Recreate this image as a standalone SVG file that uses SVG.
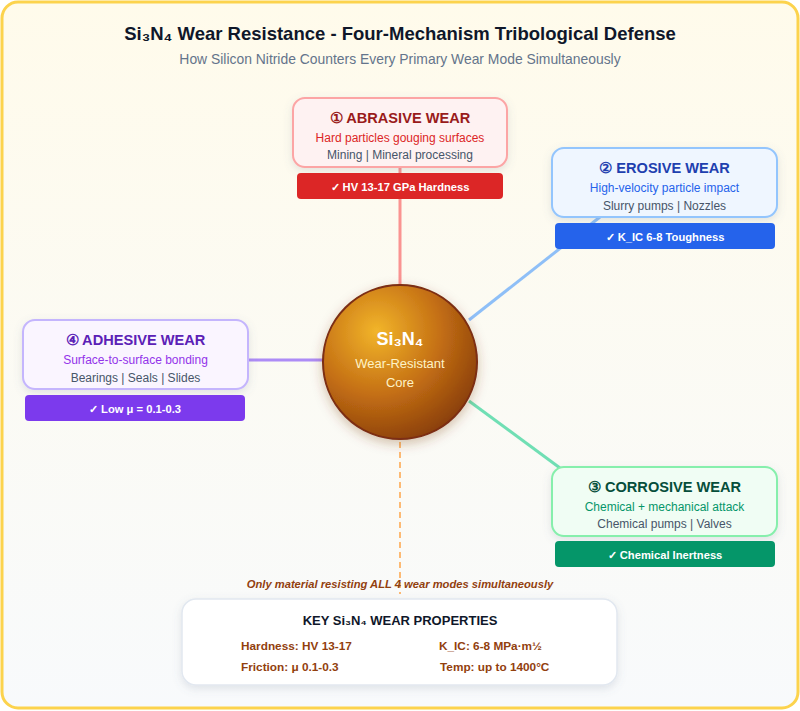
<svg xmlns="http://www.w3.org/2000/svg" width="800" height="711" viewBox="0 0 800 711">
<defs>
<linearGradient id="bg" x1="0" y1="0" x2="0" y2="1">
<stop offset="0" stop-color="#fffbeb"/>
<stop offset="1" stop-color="#f8fafc"/>
</linearGradient>
<radialGradient id="core" cx="0.35" cy="0.3" r="0.75">
<stop offset="0" stop-color="#f2b52a"/>
<stop offset="0.55" stop-color="#c46f14"/>
<stop offset="1" stop-color="#8a3f0b"/>
</radialGradient>
<filter id="sh" x="-20%" y="-20%" width="140%" height="150%">
<feDropShadow dx="0" dy="3" stdDeviation="4" flood-color="#64748b" flood-opacity="0.18"/>
</filter>
<filter id="shc" x="-20%" y="-20%" width="140%" height="150%">
<feDropShadow dx="0" dy="4" stdDeviation="6" flood-color="#78350f" flood-opacity="0.3"/>
</filter>
</defs>
<style>
text{font-family:"Liberation Sans",Arial,sans-serif;text-anchor:middle}
.h{font-size:14.6px;font-weight:bold}
.d{font-size:12px}
.u{font-size:12px;fill:#475569}
.b{font-size:11.2px;font-weight:bold;fill:#ffffff}
.box{stroke-width:2}
.p{font-size:11.8px;font-weight:bold;fill:#92400e;text-anchor:start}
</style>
<rect x="2" y="2" width="796" height="706" rx="16" fill="url(#bg)" stroke="#fcd34d" stroke-width="3"/>
<text x="400" y="40" font-size="18.5" font-weight="bold" fill="#0f172a">Si₃N₄ Wear Resistance - Four-Mechanism Tribological Defense</text>
<text x="400" y="64" font-size="13.9" fill="#64748b">How Silicon Nitride Counters Every Primary Wear Mode Simultaneously</text>
<g id="connectors" fill="none" stroke-width="3">
<line x1="400" y1="168" x2="400" y2="285" stroke="#f87171" stroke-opacity="0.75"/>
<line x1="600" y1="217" x2="469" y2="320" stroke="#60a5fa" stroke-opacity="0.7"/>
<line x1="249" y1="360" x2="324" y2="360" stroke="#8b5cf6" stroke-opacity="0.7"/>
<line x1="469" y1="401" x2="560" y2="468" stroke="#34d399" stroke-opacity="0.7"/>
<line x1="400" y1="442" x2="400" y2="594" stroke="#fdba74" stroke-width="2" stroke-dasharray="6,4"/>
</g>
<g id="core-node">
<circle cx="400" cy="362" r="77" fill="url(#core)" stroke="#7c2d12" stroke-width="2" filter="url(#shc)"/>
<text x="400" y="345" font-size="18" font-weight="bold" fill="#ffffff">Si₃N₄</text>
<text x="400" y="368" font-size="13" fill="#fef3c7">Wear-Resistant</text>
<text x="400" y="387" font-size="13" fill="#fef3c7">Core</text>
</g>
<g id="abrasive">
<rect class="box" x="293" y="98" width="214" height="69" rx="12" fill="#fef2f2" stroke="#fca5a5" filter="url(#sh)"/>
<text class="h" x="400" y="123" fill="#991b1b">① ABRASIVE WEAR</text>
<text class="d" x="400" y="142" fill="#dc2626">Hard particles gouging surfaces</text>
<text class="u" x="400" y="159">Mining | Mineral processing</text>
<rect x="297" y="173" width="206" height="26" rx="4" fill="#dc2626"/>
<text class="b" x="400" y="191">✓ HV 13-17 GPa Hardness</text>
</g>
<g id="erosive">
<rect class="box" x="552" y="148" width="225" height="69" rx="12" fill="#eff6ff" stroke="#93c5fd" filter="url(#sh)"/>
<text class="h" x="664.5" y="173" fill="#1e40af">② EROSIVE WEAR</text>
<text class="d" x="664.5" y="192" fill="#2563eb">High-velocity particle impact</text>
<text class="u" x="664.5" y="210">Slurry pumps | Nozzles</text>
<rect x="555" y="223" width="220" height="26" rx="4" fill="#2563eb"/>
<text class="b" x="665" y="241">✓ K_IC 6-8 Toughness</text>
</g>
<g id="adhesive">
<rect class="box" x="23" y="320" width="225" height="69" rx="12" fill="#faf5ff" stroke="#c4b5fd" filter="url(#sh)"/>
<text class="h" x="135.5" y="345" fill="#5b21b6">④ ADHESIVE WEAR</text>
<text class="d" x="135.5" y="364" fill="#9333ea">Surface-to-surface bonding</text>
<text class="u" x="135.5" y="382">Bearings | Seals | Slides</text>
<rect x="25" y="395" width="220" height="26" rx="4" fill="#7c3aed"/>
<text class="b" x="135" y="413">✓ Low μ = 0.1-0.3</text>
</g>
<g id="corrosive">
<rect class="box" x="552" y="467" width="225" height="69" rx="12" fill="#f0fdf4" stroke="#86efac" filter="url(#sh)"/>
<text class="h" x="664.5" y="492" fill="#064e3b">③ CORROSIVE WEAR</text>
<text class="d" x="664.5" y="511" fill="#059669">Chemical + mechanical attack</text>
<text class="u" x="664.5" y="528">Chemical pumps | Valves</text>
<rect x="555" y="541" width="220" height="26" rx="4" fill="#059669"/>
<text class="b" x="665" y="559">✓ Chemical Inertness</text>
</g>
<text x="400" y="588" font-size="11.2" font-weight="bold" font-style="italic" fill="#92400e">Only material resisting ALL 4 wear modes simultaneously</text>
<g id="key-properties">
<rect x="182" y="599" width="435" height="86" rx="14" fill="#ffffff" stroke="#e2e8f0" stroke-width="1.5" filter="url(#sh)"/>
<text x="400" y="625" font-size="13" font-weight="bold" fill="#0f172a">KEY Si₃N₄ WEAR PROPERTIES</text>
<text class="p" x="241" y="650">Hardness: HV 13-17</text>
<text class="p" x="439" y="650">K_IC: 6-8 MPa·m½</text>
<text class="p" x="241" y="671">Friction: μ 0.1-0.3</text>
<text class="p" x="440" y="671">Temp: up to 1400°C</text>
</g>
</svg>
